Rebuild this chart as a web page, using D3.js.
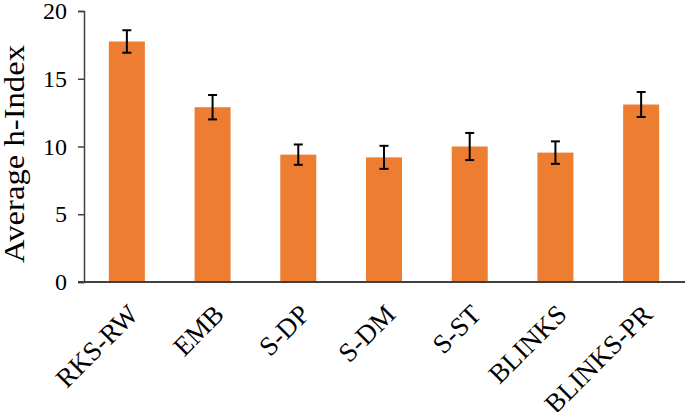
<!DOCTYPE html>
<html>
<head>
<meta charset="utf-8">
<script src="https://cdn.jsdelivr.net/npm/d3@7"></script>
<style>
  body { margin: 0; background: #fff; }
</style>
</head>
<body>
<svg id="chart"></svg>
<script>
var width = 685;
var height = 412;
var serif = '"Liberation Serif", "Times New Roman", serif';

var categories = ['RKS-RW', 'EMB', 'S-DP', 'S-DM', 'S-ST', 'BLINKS', 'BLINKS-PR'];
var values = [17.75, 12.9, 9.4, 9.2, 10.0, 9.55, 13.1];
var errors = [0.83, 0.9, 0.75, 0.85, 1.0, 0.83, 0.92];
var yTicks = [0, 5, 10, 15, 20];

var svg = d3.select('#chart')
    .attr('width', width)
    .attr('height', height);

var x = d3.scaleBand()
    .domain(categories)
    .range([84, 684])
    .paddingInner(0.58)
    .paddingOuter(0.29);

var y = d3.scaleLinear()
    .domain([0, 20])
    .range([282, 11]);

// y axis
var yAxis = svg.append('g')
    .attr('transform', 'translate(84,0)')
    .call(d3.axisLeft(y).tickValues(yTicks).tickSize(6).tickPadding(11));
yAxis.select('.domain').attr('stroke', '#404040').attr('stroke-width', 1.5);
yAxis.selectAll('.tick line').attr('stroke', '#404040').attr('stroke-width', 1.5);
yAxis.selectAll('.tick text')
    .style('font-family', serif)
    .style('font-size', '24px')
    .attr('fill', '#000');

// bars
svg.selectAll('rect.bar')
    .data(values)
    .enter().append('rect')
    .attr('class', 'bar')
    .attr('x', function (d, i) { return x(categories[i]); })
    .attr('width', x.bandwidth())
    .attr('y', function (d) { return y(d); })
    .attr('height', function (d) { return y(0) - y(d); })
    .attr('fill', '#ED7D31');

// error bars
var eb = svg.selectAll('g.err')
    .data(values)
    .enter().append('g')
    .attr('class', 'err')
    .attr('stroke', '#000')
    .attr('stroke-width', 2);

eb.append('line')
    .attr('x1', function (d, i) { return x(categories[i]) + x.bandwidth() / 2; })
    .attr('x2', function (d, i) { return x(categories[i]) + x.bandwidth() / 2; })
    .attr('y1', function (d, i) { return y(d + errors[i]); })
    .attr('y2', function (d, i) { return y(d - errors[i]); });

[1, -1].forEach(function (s) {
    eb.append('line')
        .attr('x1', function (d, i) { return x(categories[i]) + x.bandwidth() / 2 - 4.5; })
        .attr('x2', function (d, i) { return x(categories[i]) + x.bandwidth() / 2 + 4.5; })
        .attr('y1', function (d, i) { return y(d + s * errors[i]); })
        .attr('y2', function (d, i) { return y(d + s * errors[i]); });
});

// x axis
svg.append('line')
    .attr('x1', 78)
    .attr('x2', 685)
    .attr('y1', y(0))
    .attr('y2', y(0))
    .attr('stroke', '#404040')
    .attr('stroke-width', 2);

svg.selectAll('text.xlabel')
    .data(categories)
    .enter().append('text')
    .attr('class', 'xlabel')
    .attr('text-anchor', 'end')
    .style('font-family', serif)
    .style('font-size', '27px')
    .attr('fill', '#000')
    .attr('transform', function (d) {
        var cx = x(d) + x.bandwidth() / 2 + 13;
        return 'translate(' + cx + ',' + 316 + ') rotate(-45)';
    })
    .text(function (d) { return d; });

// y label
svg.append('text')
    .attr('text-anchor', 'middle')
    .style('font-family', serif)
    .style('font-size', '29px')
    .attr('fill', '#000')
    .attr('textLength', 218)
    .attr('lengthAdjust', 'spacingAndGlyphs')
    .attr('transform', 'translate(24,154) rotate(-90)')
    .text('Average h-Index');
</script>
</body>
</html>
